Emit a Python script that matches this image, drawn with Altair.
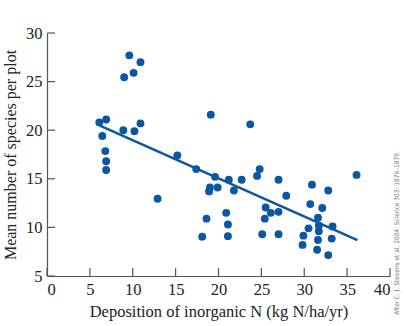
import altair as alt
import pandas as pd

# Scatter data
n_dep = [9.6, 10.9, 10.1, 9.0, 19.1, 6.1, 6.9, 8.9, 10.2, 10.9, 6.45, 6.8, 6.9, 6.9,
         15.2, 17.4, 19.6, 19.0, 18.9, 19.9, 12.9, 18.6, 18.1, 21.2, 22.7, 24.5, 24.8,
         27.0, 21.8, 27.9, 30.9, 32.8, 20.9, 21.1, 21.1, 25.1, 27.0, 25.5, 25.4, 26.1,
         27.0, 30.7, 32.1, 31.6, 31.7, 31.7, 30.5, 29.9, 29.8, 31.6, 31.5, 32.8, 33.2,
         33.3, 36.1, 23.7]
species = [27.7, 27.0, 25.9, 25.45, 21.6, 20.8, 21.1, 20.0, 19.9, 20.7, 19.4, 17.85, 16.8,
           15.9, 17.4, 16.0, 15.2, 14.1, 13.7, 14.1, 12.95, 10.9, 9.05, 14.9, 14.9, 15.3,
           16.0, 14.9, 13.8, 13.25, 14.4, 13.8, 11.5, 10.3, 9.1, 9.3, 9.3, 12.05, 10.9,
           11.5, 11.6, 12.4, 12.0, 11.0, 10.2, 9.6, 9.9, 9.15, 8.2, 8.7, 7.7, 7.15, 8.85,
           10.1, 15.4, 20.6]

# Fitted line endpoints
fit_x = [6.1, 36.2]
fit_y = [20.5, 8.7]

x_ticks = [0, 5, 10, 15, 20, 25, 30, 35, 40]
y_ticks = [5, 10, 15, 20, 25, 30]

credit = "After C. J. Stevens et al. 2004. Science 303: 1876\u20131879."

blue = "#0b57a4"
axis_col = "#555555"
serif = "Liberation Serif"

pts = pd.DataFrame({"x": n_dep, "y": species})
fit = pd.DataFrame({"x": fit_x, "y": fit_y})
xt = pd.DataFrame({"x": x_ticks})
yt = pd.DataFrame({"y": y_ticks})

xs = alt.Scale(domain=[0, 40], nice=False, zero=False)
ys = alt.Scale(domain=[5, 30], nice=False, zero=False)

xaxis = alt.Axis(values=x_ticks, grid=True, gridColor="white", gridWidth=1.2,
                 tickSize=0, domainColor=axis_col, domainWidth=1.2,
                 labelFont=serif, labelFontSize=16.5, labelColor="#222",
                 labelPadding=5, title="Deposition of inorganic N (kg N/ha/yr)",
                 titleFont=serif, titleFontSize=16.5, titleFontWeight="normal",
                 titleColor="#222", titlePadding=6)
yaxis = alt.Axis(values=y_ticks, grid=True, gridColor="white", gridWidth=1.2,
                 tickSize=0, domainColor=axis_col, domainWidth=1.2,
                 labelFont=serif, labelFontSize=16.5, labelColor="#222",
                 labelPadding=5, title="Mean number of species per plot",
                 titleFont=serif, titleFontSize=16, titleFontWeight="normal",
                 titleColor="#222", titlePadding=7)

points = alt.Chart(pts).mark_circle(size=62, color=blue, opacity=1).encode(
    x=alt.X("x:Q", scale=xs, axis=xaxis),
    y=alt.Y("y:Q", scale=ys, axis=yaxis),
)

line = alt.Chart(fit).mark_line(color=blue, strokeWidth=2.5).encode(
    x=alt.X("x:Q", scale=xs),
    y=alt.Y("y:Q", scale=ys),
)

xtick_marks = alt.Chart(xt).mark_rule(color=axis_col, strokeWidth=1.2).encode(
    x=alt.X("x:Q", scale=xs),
    y=alt.value(243),
    y2=alt.value(235),
)
ytick_marks = alt.Chart(yt).mark_rule(color=axis_col, strokeWidth=1.2).encode(
    y=alt.Y("y:Q", scale=ys),
    x=alt.value(0),
    x2=alt.value(8),
)

credit_text = alt.Chart(pd.DataFrame({"t": [credit]})).mark_text(
    angle=270, font="DejaVu Sans Condensed", fontSize=6.5, color="#777777",
    align="center", baseline="middle",
).encode(text="t:N", x=alt.value(350), y=alt.value(200))

chart = alt.layer(points, line, xtick_marks, ytick_marks, credit_text).properties(
    width=343, height=243,
    autosize=alt.AutoSizeParams(type="none"),
    padding={"left": 47, "top": 33, "right": 16, "bottom": 50},
).configure_view(fill="#efefef", stroke=None).configure(background="white")

chart.save("out.html", embed_options={"renderer": "svg", "actions": False})
